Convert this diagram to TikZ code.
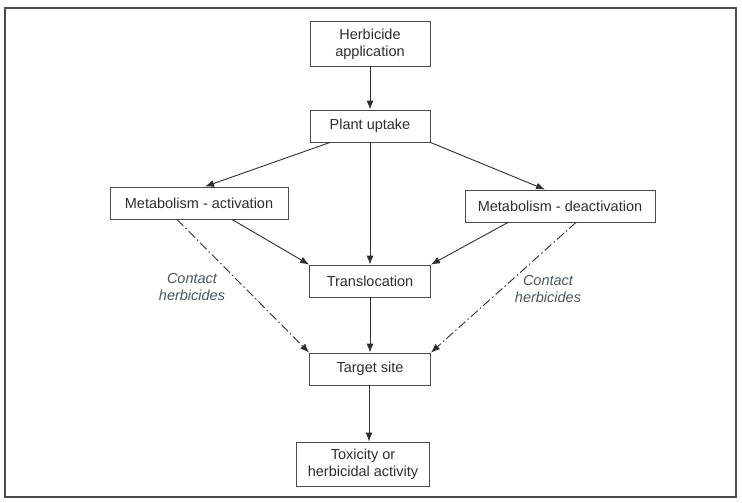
\documentclass[tikz,border=0pt]{standalone}
\usepackage{fontspec}
\setmainfont{Liberation Sans}
\usetikzlibrary{positioning}
\usetikzlibrary{calc}
\usetikzlibrary{arrows.meta}

\definecolor{boxline}{HTML}{4a4a4a}
\definecolor{textgrey}{HTML}{2e2e2e}
\definecolor{notegrey}{HTML}{4a555c}

\begin{document}
\begin{tikzpicture}[x=1pt, y=-1pt,
    stage/.style={draw=boxline, line width=0.9pt, fill=white, text=textgrey, align=center,
      font=\fontsize{14.5}{17}\selectfont, inner sep=2pt, minimum height=32pt},
    flow/.style={-{Latex[length=9pt, width=7pt]}, line width=0.9pt, draw=textgrey},
    contact/.style={-{Latex[length=9pt, width=7pt]}, line width=0.9pt, draw=textgrey, dash pattern=on 9pt off 3pt on 1.5pt off 3pt},
    note/.style={text=notegrey, align=center, font=\fontsize{14.5}{17}\selectfont\itshape}]

        \useasboundingbox (0, 0) rectangle (742, 503);

        % Outer frame
        \draw[boxline, line width=1.4pt] (5, 8) rectangle (736, 497);

        % Stages
        \node[stage, minimum width=120pt, minimum height=45pt] (app) at (370, 44) {Herbicide\\application};
        \node[stage, minimum width=120pt] (up) at (370, 126) {Plant uptake};
        \node[stage, minimum width=178pt] (act) at (199, 203) {Metabolism - activation};
        \node[stage, minimum width=190pt] (deact) at (560, 206) {Metabolism - deactivation};
        \node[stage, minimum width=121pt] (trans) at (370, 281) {Translocation};
        \node[stage, minimum width=121pt] (target) at (370, 369) {Target site};
        \node[stage, minimum width=133pt, minimum height=44pt] (tox) at (363, 464) {Toxicity or\\herbicidal activity};

        % Main flow
        \draw[flow] (app) -- (up);
        \draw[flow] ([xshift=-40pt]up.south) -- ([xshift=6pt]act.north);
        \draw[flow] (up.south east) -- ([xshift=-15pt]deact.north);
        \draw[flow] (up) -- (trans);
        \draw[flow] ([xshift=33pt]act.south) -- (trans.north west);
        \draw[flow] ([xshift=-52pt]deact.south) -- (trans.north east);
        \draw[flow] (trans) -- (target);
        \draw[flow] ([xshift=-1pt]target.south) -- ([xshift=6pt]tox.north);

        % Contact herbicides bypass translocation
        \draw[contact] ([xshift=-22pt]act.south) -- (target.north west);
        \draw[contact] ([xshift=16pt]deact.south) -- (target.north east);
        \node[note] (cleft) at (192, 287) {Contact\\herbicides};
        \node[note] (cright) at (548, 289) {Contact\\herbicides};

      \end{tikzpicture}
\end{document}
